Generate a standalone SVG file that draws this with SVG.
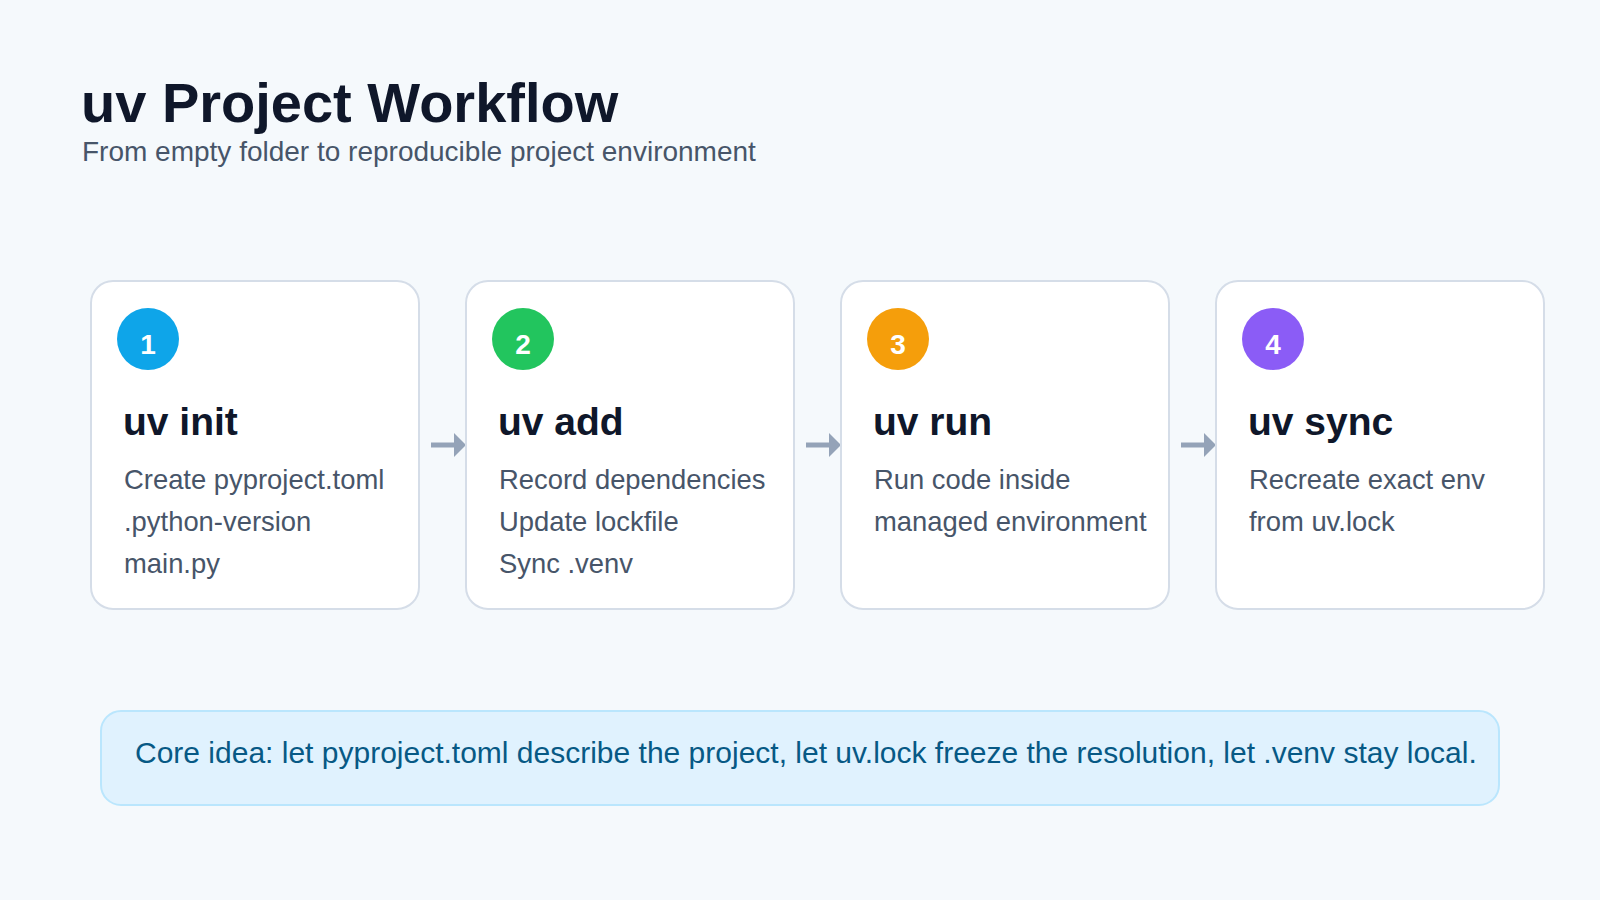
<svg xmlns="http://www.w3.org/2000/svg" width="1600" height="900" viewBox="0 0 1600 900">
<style>
text{font-family:"Liberation Sans",Arial,sans-serif}
.card{fill:#fff;stroke:#d5dde8;stroke-width:2}
.num{fill:#fff;font-size:28px;font-weight:bold;text-anchor:middle}
.h{fill:#0f172a;font-size:39px;font-weight:bold}
.b{fill:#475569;font-size:27.4px}
.ar{stroke:#94a3b8;stroke-width:5;fill:none;marker-end:url(#m)}
</style>
<defs><marker id="m" markerWidth="3" markerHeight="5" refX="1.5" refY="2.5" orient="auto" markerUnits="strokeWidth"><path d="M0,0L2.5,2.5L0,5z" fill="#94a3b8"/></marker></defs>
<rect width="1600" height="900" fill="#f5f9fc"/>
<text x="81" y="122" font-size="56" font-weight="bold" fill="#0f172a">uv Project Workflow</text>
<text x="82" y="161" font-size="28" fill="#475569">From empty folder to reproducible project environment</text>
<g id="connectors">
<line class="ar" x1="431" y1="445" x2="461" y2="445"/>
<line class="ar" x1="806" y1="445" x2="836" y2="445"/>
<line class="ar" x1="1181" y1="445" x2="1211" y2="445"/>
</g>
<g id="n1"><rect class="card" x="91" y="281" width="328" height="328" rx="22"/><circle cx="148" cy="339" r="31" fill="#0ea5e9"/><text class="num" x="148" y="354">1</text><text class="h" x="123" y="435">uv init</text><text class="b" x="124" y="489">Create pyproject.toml</text><text class="b" x="124" y="531">.python-version</text><text class="b" x="124" y="573">main.py</text></g>
<g id="n2"><rect class="card" x="466" y="281" width="328" height="328" rx="22"/><circle cx="523" cy="339" r="31" fill="#22c55e"/><text class="num" x="523" y="354">2</text><text class="h" x="498" y="435">uv add</text><text class="b" x="499" y="489">Record dependencies</text><text class="b" x="499" y="531">Update lockfile</text><text class="b" x="499" y="573">Sync .venv</text></g>
<g id="n3"><rect class="card" x="841" y="281" width="328" height="328" rx="22"/><circle cx="898" cy="339" r="31" fill="#f59e0b"/><text class="num" x="898" y="354">3</text><text class="h" x="873" y="435">uv run</text><text class="b" x="874" y="489">Run code inside</text><text class="b" x="874" y="531">managed environment</text></g>
<g id="n4"><rect class="card" x="1216" y="281" width="328" height="328" rx="22"/><circle cx="1273" cy="339" r="31" fill="#8b5cf6"/><text class="num" x="1273" y="354">4</text><text class="h" x="1248" y="435">uv sync</text><text class="b" x="1249" y="489">Recreate exact env</text><text class="b" x="1249" y="531">from uv.lock</text></g>
<g id="note"><rect x="101" y="711" width="1398" height="94" rx="20" fill="#e0f2fe" stroke="#bae6fd" stroke-width="2"/><text x="135" y="763" font-size="30" fill="#075985">Core idea: let pyproject.toml describe the project, let uv.lock freeze the resolution, let .venv stay local.</text></g>
</svg>
